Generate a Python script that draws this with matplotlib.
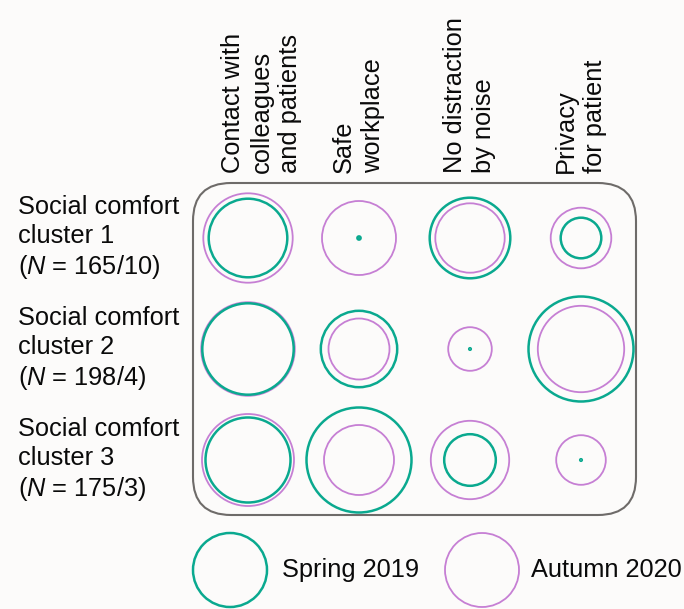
import matplotlib
matplotlib.use("Agg")
import matplotlib.pyplot as plt
from matplotlib.patches import Circle, FancyBboxPatch

# ---- data ----
items = ["Contact with\ncolleagues\nand patients", "Safe\nworkplace",
         "No distraction\nby noise", "Privacy\nfor patient"]
clusters = ["Social comfort\ncluster 1\n($\\mathit{N}$ = 165/10)",
            "Social comfort\ncluster 2\n($\\mathit{N}$ = 198/4)",
            "Social comfort\ncluster 3\n($\\mathit{N}$ = 175/3)"]
# circle radii (relative size) per cluster (rows) and item (columns)
spring_2019 = [[39.3, 1.6, 40.3, 20.3],
               [45.7, 38.2, 0.8, 52.5],
               [42.5, 52.5, 25.8, 0.8]]
autumn_2020 = [[44.7, 37.0, 34.7, 30.3],
               [46.8, 30.5, 21.8, 43.2],
               [46.0, 35.0, 39.2, 24.8]]
series_labels = ["Spring 2019", "Autumn 2020"]

# ---- style ----
TEAL = "#0aa98f"
PURPLE = "#c67fd4"
BG = "#fcfbfa"
plt.rcParams['font.family'] = ['Liberation Sans', 'DejaVu Sans']
plt.rcParams['mathtext.fontset'] = 'custom'
plt.rcParams['mathtext.rm'] = 'Liberation Sans'
plt.rcParams['mathtext.it'] = 'Liberation Sans:italic'
FS = 18.3

fig = plt.figure(figsize=(6.84, 6.09), dpi=100, facecolor=BG)
ax = fig.add_axes([0, 0, 1, 1])
ax.set_xlim(0, 684)
ax.set_ylim(609, 0)
ax.axis('off')
ax.set_facecolor(BG)

x0, dx = 248, 111
y0, dy = 238, 111

# rounded frame
box = FancyBboxPatch((193, 183), 443, 332, boxstyle="round,pad=0,rounding_size=38",
                     fill=False, edgecolor="#6e6b69", linewidth=1.5)
ax.add_patch(box)

for i, row in enumerate(clusters):
    cy = y0 + i * dy
    for j in range(len(items)):
        cx = x0 + j * dx
        ax.add_patch(Circle((cx, cy), autumn_2020[i][j], fill=False,
                            edgecolor=PURPLE, linewidth=1.3))
        ax.add_patch(Circle((cx, cy), spring_2019[i][j], fill=False,
                            edgecolor=TEAL, linewidth=1.8))
    ax.text(18, cy, row, ha='left', va='center', fontsize=FS,
            linespacing=1.25, color='#0a0a0a')

for j, lab in enumerate(items):
    cx = x0 + j * dx
    ax.text(cx - 27, 173, lab, rotation=90, ha='left', va='bottom',
            multialignment='left', fontsize=FS, linespacing=1.25,
            color='#0a0a0a', rotation_mode='default')

# legend
ax.add_patch(Circle((230, 570), 37, fill=False, edgecolor=TEAL, linewidth=1.8))
ax.text(282, 570, series_labels[0], ha='left', va='center', fontsize=FS, color='#0a0a0a')
ax.add_patch(Circle((482, 570), 37, fill=False, edgecolor=PURPLE, linewidth=1.3))
ax.text(531, 570, series_labels[1], ha='left', va='center', fontsize=FS, color='#0a0a0a')

fig.savefig("out.png", dpi=100, facecolor=BG)
